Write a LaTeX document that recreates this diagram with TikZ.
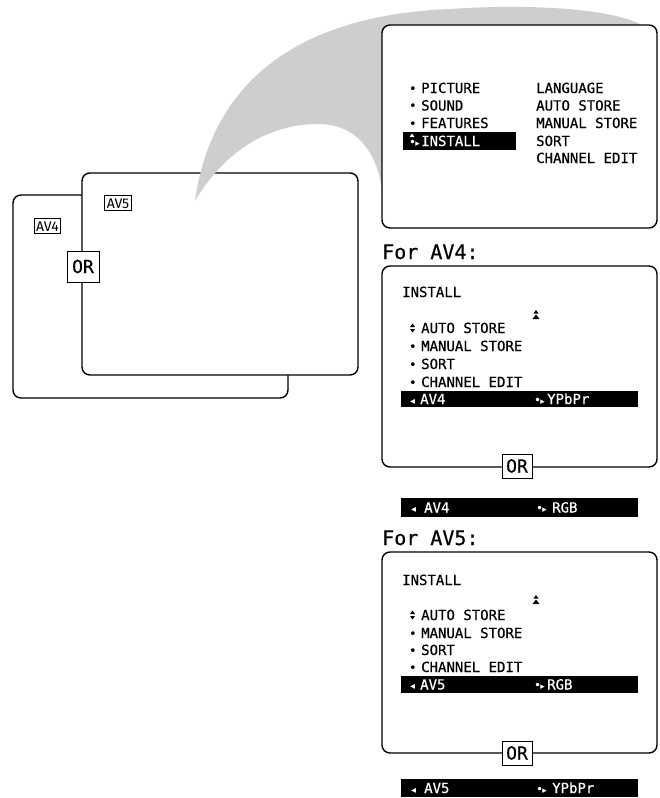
\documentclass[tikz,border=0pt]{standalone}
\usepackage{fontspec}
\setmonofont[FakeBold=0.5]{DejaVu Sans Mono}
\setsansfont{Fira Sans}
\newfontfamily\symfont{DejaVu Sans}
\usepackage{xcolor}
\definecolor{swoosh}{RGB}{206,206,206}
\usetikzlibrary{positioning}
\newcommand{\menufont}{\fontsize{14}{16}\selectfont\ttfamily}
\newcommand{\headfont}{\fontsize{20}{24}\selectfont\ttfamily}
\newcommand{\tagfont}{\fontsize{14}{16}\selectfont\sffamily}
\newcommand{\orfont}{\fontsize{18}{20}\selectfont\ttfamily}
\newcommand{\sym}[2]{{\symfont\fontsize{#1}{#1}\selectfont #2}}
\newcommand{\bul}{\makebox[12pt][l]{\sym{13}{•}}}
\newcommand{\nobul}{\makebox[12pt][l]{}}
\newcommand{\selbul}{\makebox[12pt][l]{\sym{12}{•}\kern-1pt\sym{9}{▸}}}
\newcommand{\ltri}{\makebox[10pt][l]{\sym{10}{◂}}}
\newcommand{\srcmark}{\makebox[13pt][l]{\sym{12}{•}\kern-1pt\sym{9}{▸}}}

\begin{document}
\begin{tikzpicture}[x=1pt,y=-1pt,
  screen/.style={draw,line width=1.4pt,rounded corners=8pt,fill=white},
  item/.style={anchor=west,inner sep=0pt,font=\menufont,text height=10pt,text depth=0pt},
  hitem/.style={item,text=white},
  bar/.style={fill=black},
  tag/.style={draw,line width=0.8pt,fill=white,inner sep=2pt,font=\tagfont,
    text height=11pt,text depth=0pt},
  ortag/.style={draw,line width=0.9pt,fill=white,inner sep=2pt,font=\orfont,
    text height=13pt,text depth=0pt,minimum width=30pt,minimum height=24pt}]
  \useasboundingbox (0,0) rectangle (659,798);

  % the two inputs
  \draw[screen] (13,195) rectangle (288,398);
  \draw[screen] (82,173) rectangle (358,375);
  \node[tag] (av4tag) at (47.5,225.5) {AV4};
  \node[tag] (av5tag) at (118,203) {AV5};
  \node[ortag,minimum width=32pt,minimum height=31pt] (orleft) at (83,266.5) {OR};

  % swoosh behind the main menu
  \fill[swoosh] (195,201) .. controls (212,80) and (300,15) .. (450,9)
    .. controls (540,3) and (620,10) .. (645,27) -- (500,100) -- (383,196)
    .. controls (378,150) and (355,124) .. (318,124)
    .. controls (270,124) and (225,150) .. (195,201);

  % main menu
  \draw[screen] (382,25) rectangle (657,228);
  \fill[bar] (403,132) rectangle (516,150);
  \node[item] (pic) at (409,88) {\bul PICTURE};
  \node[item] (snd) at (409,105.5) {\bul SOUND};
  \node[item] (feat) at (409,123) {\bul FEATURES};
  \node[hitem] (inst) at (409,141) {\selbul INSTALL};
  \fill[white] (409.5,137) -- (414.5,137) -- (412,133.5) -- cycle;
  \node[item] (lang) at (536,88) {LANGUAGE};
  \node[item] (auto) at (536,105.5) {AUTO STORE};
  \node[item] (man) at (536,123) {MANUAL STORE};
  \node[item] (sort) at (536,141) {SORT};
  \node[item] (chan) at (536,158) {CHANNEL EDIT};

  % AV4 install menu
  \node[item,font=\headfont,text height=14pt] (forav4) at (382,252) {For AV4:};
  \draw[screen] (382,266) rectangle (657,467);
  \node[item] (instA) at (402,292) {INSTALL};
  \fill (532.5,319) -- (539.5,319) -- (536,314.5) -- cycle
        (533.5,313.5) -- (538.5,313.5) -- (536,310) -- cycle;
  \node[item] (autoA) at (409,328) {\nobul AUTO STORE};
  \fill (410,327) -- (415,327) -- (412.5,323.5) -- cycle
        (410,329) -- (415,329) -- (412.5,332.5) -- cycle;
  \node[item] (manA) at (409,346) {\bul MANUAL STORE};
  \node[item] (sortA) at (409,364) {\bul SORT};
  \node[item] (chanA) at (409,382) {\bul CHANNEL EDIT};
  \fill[bar] (401,391) rectangle (638,407);
  \node[hitem] (selA) at (410,399) {\ltri AV4};
  \node[hitem] (ypbA) at (534,399) {\srcmark YPbPr};
  \node[ortag] (orA) at (517,466) {OR};
  \fill[bar] (401,498) rectangle (638,517);
  \node[hitem] (altA) at (411,507.5) {\ltri\kern3pt AV4};
  \node[hitem] (rgbA) at (536,507.5) {\srcmark\kern3pt RGB};

  % AV5 install menu
  \node[item,font=\headfont,text height=14pt] (forav5) at (382,538) {For AV5:};
  \draw[screen] (382,552) rectangle (657,753);
  \node[item] (instB) at (402,580) {INSTALL};
  \fill (532.5,604) -- (539.5,604) -- (536,599.5) -- cycle
        (533.5,598.5) -- (538.5,598.5) -- (536,595) -- cycle;
  \node[item] (autoB) at (409,615) {\nobul AUTO STORE};
  \fill (410,614) -- (415,614) -- (412.5,610.5) -- cycle
        (410,616) -- (415,616) -- (412.5,619.5) -- cycle;
  \node[item] (manB) at (409,633) {\bul MANUAL STORE};
  \node[item] (sortB) at (409,650) {\bul SORT};
  \node[item] (chanB) at (409,667) {\bul CHANNEL EDIT};
  \fill[bar] (401,676) rectangle (638,693);
  \node[hitem] (selB) at (410,684.5) {\ltri AV5};
  \node[hitem] (rgbB) at (534,684.5) {\srcmark RGB};
  \node[ortag] (orB) at (517,753) {OR};
  \fill[bar] (401,779) rectangle (638,797);
  \node[hitem] (altB) at (411,788) {\ltri\kern3pt AV5};
  \node[hitem] (ypbB) at (536,788) {\srcmark\kern3pt YPbPr};
\end{tikzpicture}
\end{document}
